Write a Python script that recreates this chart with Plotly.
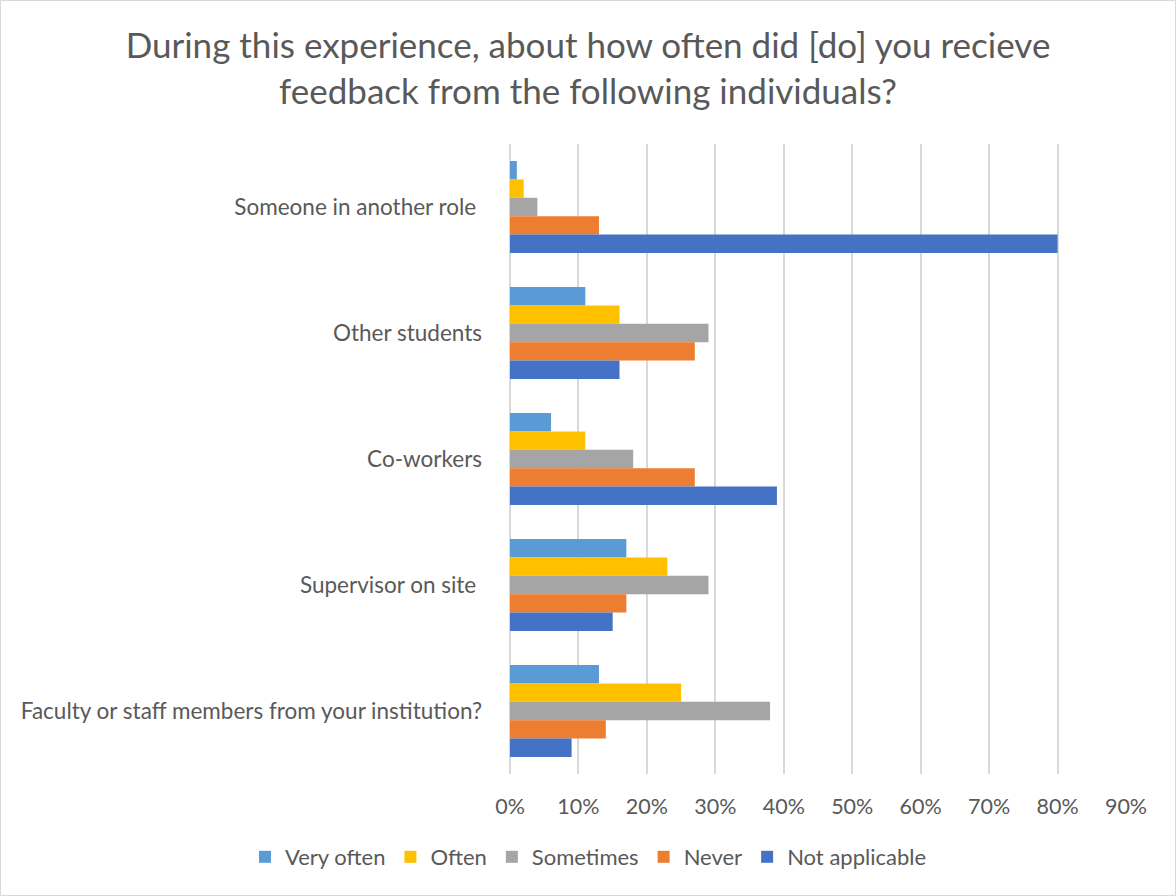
import plotly.graph_objects as go

categories = [
    "Someone in another role ",
    "Other students",
    "Co-workers",
    "Supervisor on site ",
    "Faculty or staff members from your institution?",
]
series_names = ["Very often", "Often", "Sometimes", "Never", "Not applicable"]
very_often = [0.01, 0.11, 0.06, 0.17, 0.13]
often = [0.02, 0.16, 0.11, 0.23, 0.25]
sometimes = [0.04, 0.29, 0.18, 0.29, 0.38]
never = [0.13, 0.27, 0.27, 0.17, 0.14]
not_applicable = [0.80, 0.16, 0.39, 0.15, 0.09]
tick_values = [0, 0.1, 0.2, 0.3, 0.4, 0.5, 0.6, 0.7, 0.8, 0.9]
tick_labels = ["0%", "10%", "20%", "30%", "40%", "50%", "60%", "70%", "80%", "90%"]

colors = ["#5B9BD5", "#FFC000", "#A5A5A5", "#ED7D31", "#4472C4"]
series_values = [very_often, often, sometimes, never, not_applicable]

W, H = 1176, 896
ML, MR, MT, MB = 510, 50, 144, 122
FONT = "Lato"
GREY = "#595959"

fig = go.Figure()
for name, vals, col in zip(series_names, series_values, colors):
    fig.add_trace(go.Bar(
        y=categories, x=vals, name=name, orientation="h",
        marker=dict(color=col, line=dict(width=0)),
    ))

pw = W - ML - MR
ph = H - MT - MB

fig.update_layout(
    width=W, height=H,
    margin=dict(l=ML, r=MR, t=MT, b=MB),
    paper_bgcolor="white", plot_bgcolor="white",
    barmode="group", bargap=0.27, bargroupgap=0,
    font=dict(family=FONT, color=GREY),
    title=dict(
        text="During this experience, about how often did [do] you recieve<br>feedback from the following individuals?",
        x=0.5, xref="container", xanchor="center",
        y=1 - 58 / H, yref="container", yanchor="middle",
        font=dict(family=FONT, size=35, color=GREY),
    ),
    xaxis=dict(
        range=[0, 0.9], tickvals=tick_values, ticktext=tick_labels,
        showgrid=True, gridcolor="#D9D9D9", gridwidth=1.5,
        zeroline=True, zerolinecolor="#D9D9D9", zerolinewidth=1.5,
        showline=False, ticks="", ticklabelstandoff=17,
        tickfont=dict(family=FONT, size=21.5, color=GREY),
        fixedrange=True,
    ),
    yaxis=dict(
        autorange="reversed", showgrid=False, showline=False, ticks="",
        ticklabelstandoff=27,
        tickfont=dict(family=FONT, size=22.5, color=GREY),
    ),
    legend=dict(
        orientation="h",
        x=(245 - ML) / pw, xref="paper", xanchor="left",
        y=-(857 - (H - MB)) / ph, yref="paper", yanchor="middle",
        font=dict(family=FONT, size=22, color=GREY),
        itemwidth=30, traceorder="normal",
    ),
    shapes=[dict(
        type="rect", xref="paper", yref="paper",
        x0=(-ML + 0.5) / pw, x1=(W - ML - 0.5) / pw,
        y0=(-MB + 0.5) / ph, y1=(H - MB - 0.5) / ph,
        line=dict(color="#D9D9D9", width=1), fillcolor="rgba(0,0,0,0)",
        layer="below",
    )],
)

fig.write_html("out.html")
